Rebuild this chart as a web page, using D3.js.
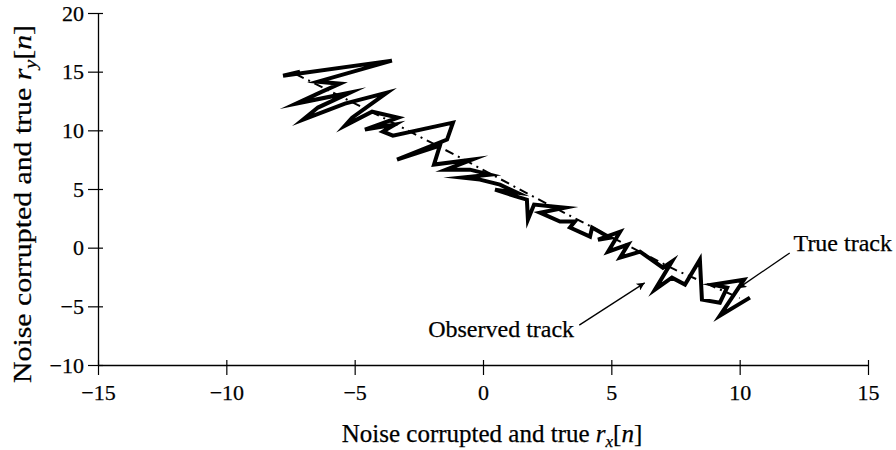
<!DOCTYPE html>
<html>
<head>
<meta charset="utf-8">
<script src="https://cdn.jsdelivr.net/npm/d3@7"></script>
<style>
  body { margin: 0; background: #fff; }
  text { font-family: "Liberation Serif", "DejaVu Serif", serif; fill: #000; stroke: #000; stroke-width: 0.25px; }
</style>
</head>
<body>
<svg id="chart" width="896" height="450"></svg>
<script>
// Observed (noise corrupted) track
const obsX = [-7.13, -7.79, -3.55, -6.43, -5.57, -6.27, -7.28, -5.18, -6.43, -7.01,
              -5.38, -3.74, -5.10, -5.38, -4.32, -3.31, -4.60, -3.43, -3.90, -3.51,
              -1.17, -1.40, -3.35, -1.68, -1.91, -0.43, -1.44, -0.51, 0.27, -0.82,
              -0.12, 0.66, 1.32, 0.47, 1.44, 1.71, 1.75, 1.99, 3.19, 2.22,
              3.00, 3.58, 3.39, 4.17, 4.25, 4.95, 4.48, 5.34, 4.87, 5.65,
              5.34, 6.12, 7.01, 7.36, 6.70, 7.36, 7.87, 8.45, 8.53, 9.23,
              9.51, 8.96, 10.17, 9.23, 10.40];
const obsY = [15.00, 14.66, 15.94, 14.15, 13.98, 13.30, 12.28, 13.21, 11.94, 10.91,
              12.28, 13.21, 11.08, 10.40, 11.59, 11.08, 10.06, 10.49, 9.89, 9.55,
              10.66, 9.21, 7.50, 8.70, 7.08, 7.50, 6.65, 6.65, 6.22, 5.97,
              5.80, 5.37, 4.69, 4.94, 4.26, 4.09, 2.39, 3.67, 3.41, 2.98,
              2.22, 2.22, 1.71, 0.94, 1.71, 0.85, 0.68, 1.36, -0.34, 0.26,
              -0.85, -0.34, -1.71, -1.19, -3.58, -2.56, -3.15, -1.02, -4.43, -4.69,
              -3.41, -3.15, -2.73, -5.80, -4.26];

// True track (dash-dot)
const trueX = [-7.3, -4.0, -1.0, 2.0, 5.0, 7.5, 10.0];
const trueY = [14.8, 11.2, 7.8, 4.3, 0.9, -1.9, -4.3];

// Ticks
const xTicks = [-15, -10, -5, 0, 5, 10, 15];
const yTicks = [-10, -5, 0, 5, 10, 15, 20];

// Annotations: [label, text x, text y, arrow from x, from y, arrow to x, to y, anchor]
const notes = [
  ["Observed track", 3.55, -7.65, 3.75, -6.6, 6.3, -3.0, "end"],
  ["True track", 12.1, -0.3, 11.95, -0.45, 9.95, -3.45, "start"]
];

const svg = d3.select("#chart");

let x = d3.scaleLinear().domain([-15, 15]).range([98, 868]);
let y = d3.scaleLinear().domain([-10, 20]).range([365, 13]);

// arrow head
svg.append("defs").append("marker")
    .attr("id", "head")
    .attr("viewBox", "0 0 10 10")
    .attr("refX", 10).attr("refY", 5)
    .attr("markerUnits", "userSpaceOnUse")
    .attr("markerWidth", 13).attr("markerHeight", 8)
    .attr("orient", "auto")
  .append("path")
    .attr("d", "M0,0 L10,5 L0,10 L2.5,5 Z")
    .attr("fill", "#000");

// x axis
let xAxis = svg.append("g")
    .attr("transform", "translate(0," + y(-10) + ")")
    .call(d3.axisBottom(x).tickValues(xTicks).tickSizeInner(10).tickSizeOuter(0).tickPadding(5));
xAxis.selectAll(".tick").append("line").attr("y2", -5).attr("stroke", "#000");

// y axis
let yAxis = svg.append("g")
    .attr("transform", "translate(" + x(-15) + ",0)")
    .call(d3.axisLeft(y).tickValues(yTicks).tickSizeInner(10).tickSizeOuter(0).tickPadding(4));
yAxis.selectAll(".tick").append("line").attr("x2", 5).attr("stroke", "#000");

svg.selectAll(".domain").attr("stroke", "#000").attr("stroke-width", 1.3);
svg.selectAll(".tick line").attr("stroke-width", 1.2);
svg.selectAll(".tick text").style("font-size", "22px").attr("font-family", null);
xAxis.selectAll(".tick text").attr("dy", "0.9em");

// true track
let line = d3.line().x(d => x(d[0])).y(d => y(d[1]));
svg.append("path")
    .attr("d", line(d3.zip(trueX, trueY)))
    .attr("fill", "none")
    .attr("stroke", "#000")
    .attr("stroke-width", 2)
    .attr("stroke-dasharray", "9,5,2,5");

// observed track
svg.append("path")
    .attr("d", line(d3.zip(obsX, obsY)))
    .attr("fill", "none")
    .attr("stroke", "#000")
    .attr("stroke-width", 4)
    .attr("stroke-linejoin", "miter")
    .attr("stroke-miterlimit", 10);

// annotations
notes.forEach(n => {
  svg.append("line")
      .attr("x1", x(n[3])).attr("y1", y(n[4]))
      .attr("x2", x(n[5])).attr("y2", y(n[6]))
      .attr("stroke", "#000").attr("stroke-width", 1.3)
      .attr("marker-end", "url(#head)");
  svg.append("text")
      .attr("x", x(n[1])).attr("y", y(n[2]))
      .attr("text-anchor", n[7])
      .style("font-size", "24px")
      .text(n[0]);
});

// axis labels
let xl = svg.append("text")
    .attr("x", 492).attr("y", 442)
    .attr("text-anchor", "middle")
    .style("font-size", "25px");
xl.append("tspan").text("Noise corrupted and true ");
xl.append("tspan").style("font-style", "italic").text("r");
xl.append("tspan").attr("dy", 5).style("font-size", "17px").style("font-style", "italic").text("x");
xl.append("tspan").attr("dy", -5).text("[");
xl.append("tspan").style("font-style", "italic").text("n");
xl.append("tspan").text("]");

let yl = svg.append("text")
    .attr("transform", "translate(31,204) rotate(-90)")
    .attr("text-anchor", "middle")
    .attr("textLength", 358)
    .attr("lengthAdjust", "spacingAndGlyphs")
    .style("font-size", "25px");
yl.append("tspan").text("Noise corrupted and true ");
yl.append("tspan").style("font-style", "italic").text("r");
yl.append("tspan").attr("dy", 5).style("font-size", "17px").style("font-style", "italic").text("y");
yl.append("tspan").attr("dy", -5).text("[");
yl.append("tspan").style("font-style", "italic").text("n");
yl.append("tspan").text("]");
</script>
</body>
</html>
